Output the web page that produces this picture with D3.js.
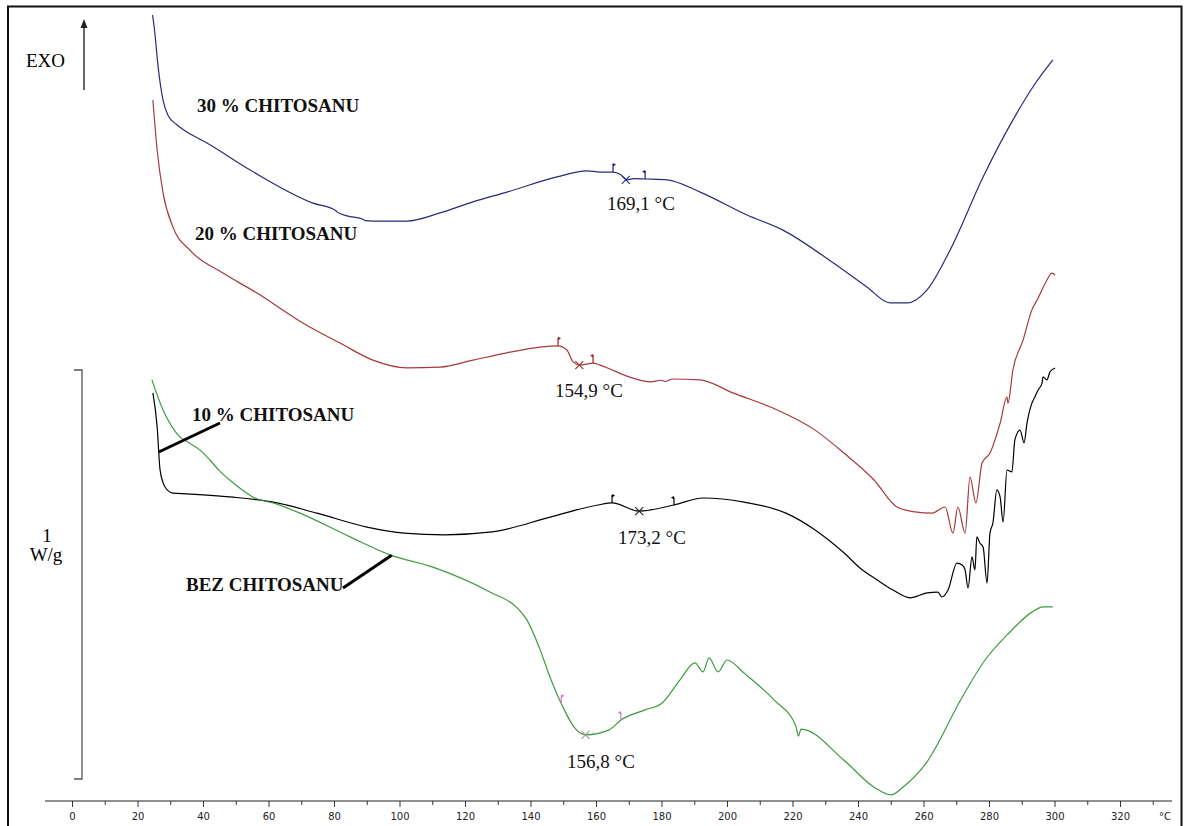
<!DOCTYPE html>
<html>
<head>
<meta charset="utf-8">
<script src="https://cdn.jsdelivr.net/npm/d3@7"></script>
<style>
  html, body { margin: 0; padding: 0; background: #fff; }
  svg { display: block; }
</style>
</head>
<body>
<svg id="chart" width="1184" height="826"></svg>
<script>
// ---------------- DATA (temperature °C, heat flow W/g, plotted offset) ----------------
const xTicksMajor = [0, 20, 40, 60, 80, 100, 120, 140, 160, 180, 200, 220, 240, 260, 280, 300, 320];
const xTicksMinor = [10, 30, 50, 70, 90, 110, 130, 150, 170, 190, 210, 230, 250, 270, 290, 310, 330];
const xUnit = "°C";

const series30 = [
  [24.6,1.868],[25.3,1.824],[26.3,1.741],[27.8,1.660],[29.3,1.623],[32.1,1.599],[35.1,1.582],
  [41.2,1.555],[54.4,1.489],[73.6,1.408],[80.5,1.390],[81.0,1.386],[84.0,1.377],[89.0,1.368],[89.5,1.365],
  [91.9,1.364],[102.3,1.364],[112.4,1.384],[122.4,1.411],[132.8,1.435],[148.1,1.472],[157.3,1.487],
  [161.2,1.484],[165.2,1.484],[167.5,1.478],[169.5,1.465],[171.5,1.468],[175.0,1.467],[181.7,1.465],
  [191.8,1.435],[206.1,1.379],[217.1,1.342],[232.4,1.262],[242.7,1.203],
  [249.8,1.164],[255.0,1.164],[261.1,1.196],[268.1,1.293],[278.2,1.472],[288.5,1.628],[293.4,1.692],[299.5,1.758]
];
const series20 = [
  [24.7,1.660],[26.0,1.538],[27.8,1.433],[30.8,1.350],[36.0,1.293],[46.1,1.237],[56.5,1.188],
  [67.5,1.130],[70.5,1.115],[81.8,1.066],[91.9,1.024],[102.3,1.005],[112.4,1.007],[122.4,1.024],
  [132.8,1.042],[142.9,1.056],[148.4,1.059],[151.1,1.049],[153.0,1.020],[155.1,1.012],[159.1,1.017],
  [161.2,1.012],[171.3,0.980],[176.5,0.971],[180.0,0.975],[181.0,0.972],[183.5,0.978],[191.8,0.976],
  [201.8,0.944],[214.0,0.907],[226.9,0.853],[235.7,0.797],[244.9,0.731],[251.9,0.665],
  [257.4,0.653],[262.6,0.650],[266.6,0.665],[269.0,0.601],[270.5,0.665],[272.7,0.601],[274.2,0.738],
  [276.0,0.675],[277.9,0.773],[280.3,0.797],[283.4,0.870],[285.5,0.934],[285.8,0.919],[287.3,1.000],
  [290.4,1.073],[293.1,1.147],[294.7,1.171],[297.7,1.220],[299.2,1.237],[300.2,1.232]
];
const series10 = [
  [24.7,0.944],[26.0,0.861],[26.9,0.755],[28.4,0.714],[30.8,0.699],[35.1,0.697],[49.2,0.689],
  [62.6,0.675],[74.8,0.650],[90.1,0.616],[101.4,0.601],[113.9,0.597],[128.2,0.604],[146.3,0.641],
  [160.6,0.670],[164.9,0.675],[173.1,0.655],[183.8,0.670],[192.7,0.687],[205.2,0.677],[218.0,0.650],
  [226.9,0.609],[235.7,0.553],[240.6,0.516],[245.8,0.487],[250.7,0.462],[255.9,0.443],[261.1,0.455],
  [264.4,0.457],[265.6,0.445],[267.5,0.462],[270.2,0.528],[271.8,0.523],[272.7,0.511],[273.6,0.467],
  [274.8,0.543],[275.7,0.511],[276.3,0.592],[277.2,0.577],[278.2,0.567],[279.4,0.479],[280.3,0.601],
  [281.2,0.626],[282.4,0.707],[283.4,0.689],[284.3,0.628],[285.5,0.755],[287.0,0.751],[287.9,0.829],
  [289.5,0.853],[290.7,0.822],[291.6,0.870],[293.1,0.919],[294.0,0.934],[295.0,0.951],[296.2,0.968],
  [296.5,0.983],[297.7,0.976],[298.6,0.995],[300.2,1.005]
];
const series0 = [
  [24.4,0.976],[27.8,0.902],[31.5,0.850],[33.0,0.836],[35.1,0.825],[39.1,0.804],[42.1,0.780],
  [45.2,0.752],[49.2,0.724],[55.3,0.689],[62.6,0.672],[69.6,0.650],
  [84.9,0.592],[97.1,0.548],[110.2,0.518],[128.2,0.455],[135.6,0.421],[138.9,0.389],[142.6,0.323],
  [146.3,0.242],[149.9,0.176],[153.3,0.127],[156.9,0.108],[164.0,0.120],[167.6,0.144],[175.0,0.169],
  [180.2,0.186],[185.6,0.242],[190.2,0.284],[192.7,0.262],[194.5,0.296],[197.3,0.262],[200.0,0.291],
  [205.2,0.259],[214.4,0.193],[221.0,0.130],[221.8,0.105],[222.6,0.122],[235.7,0.046],[244.9,-0.020],
  [250.1,-0.039],[253.7,-0.020],[260.8,0.039],[271.8,0.200],[278.8,0.291],[286.1,0.357],[293.1,0.408],
  [296.5,0.421],[299.5,0.421]
];

// onset / end flags and peak markers: [temperature, heat flow]
const flags30 = [[165.2,1.484],[175.0,1.467]];
const flags20 = [[148.4,1.059],[159.1,1.017]];
const flags10 = [[164.9,0.675],[183.8,0.670]];
const flags0  = [[149.4,0.185],[167.6,0.144]];
const peaks = [
  {t:169.1, v:1.465, label:"169,1 °C", color:"#2a2a80"},
  {t:154.9, v:1.012, label:"154,9 °C", color:"#a03030"},
  {t:173.2, v:0.655, label:"173,2 °C", color:"#222"},
  {t:156.8, v:0.108, label:"156,8 °C", color:"#999"}
];
const seriesNames = ["30 % CHITOSANU", "20 % CHITOSANU", "10 % CHITOSANU", "BEZ CHITOSANU"];
const seriesColors = ["#2a2a7a", "#a8383a", "#000000", "#3f9a3f"];
const flagColors = ["#1a1a90", "#a02020", "#000000", "#d07ad0"];

// ---------------- DRAWING ----------------
const svg = d3.select("#chart");
const x = d3.scaleLinear().domain([0, 330]).range([72, 72 + 3.275 * 330]);
const y = d3.scaleLinear().domain([0, 1]).range([779, 370]);
const serif = "'Liberation Serif', 'Times New Roman', serif";

// frame
svg.append("path")
  .attr("d", "M8,826 L8,6.5 L1181.5,6.5 L1181.5,826")
  .attr("fill", "none").attr("stroke", "#111").attr("stroke-width", 2);

// x axis
const axisY = 801;
svg.append("line").attr("x1", 45).attr("x2", 1172).attr("y1", axisY).attr("y2", axisY)
  .attr("stroke", "#222").attr("stroke-width", 1.2);
const gMaj = svg.append("g").attr("transform", `translate(0,${axisY})`)
  .call(d3.axisBottom(x).tickValues(xTicksMajor).tickSize(6).tickPadding(6).tickFormat(d3.format("d")));
const gMin = svg.append("g").attr("transform", `translate(0,${axisY})`)
  .call(d3.axisBottom(x).tickValues(xTicksMinor).tickSize(4).tickFormat(""));
[gMaj, gMin].forEach(g => {
  g.select(".domain").remove();
  g.selectAll(".tick line").attr("stroke", "#333");
});
gMaj.selectAll(".tick text").attr("font-family", "'DejaVu Sans', sans-serif")
  .attr("font-size", 10).attr("fill", "#222");
svg.append("text").attr("x", 1165).attr("y", 820).attr("text-anchor", "middle")
  .attr("font-family", "'DejaVu Sans', sans-serif").attr("font-size", 10).attr("fill", "#222")
  .text(xUnit);

// scale bracket 1 W/g
svg.append("path")
  .attr("d", `M74,${y(1)} L82,${y(1)} L82,${y(0)} L74,${y(0)}`)
  .attr("fill", "none").attr("stroke", "#555").attr("stroke-width", 1.3);
svg.append("text").attr("x", 47).attr("y", 542).attr("text-anchor", "middle")
  .attr("font-family", serif).attr("font-size", 19).text("1");
svg.append("text").attr("x", 46).attr("y", 561).attr("text-anchor", "middle")
  .attr("font-family", serif).attr("font-size", 19).text("W/g");

// EXO arrow
svg.append("line").attr("x1", 84).attr("x2", 84).attr("y1", 90).attr("y2", 26)
  .attr("stroke", "#333").attr("stroke-width", 1.5);
svg.append("path").attr("d", "M84,19 L80.5,28 L87.5,28 Z").attr("fill", "#222");
svg.append("text").attr("x", 26).attr("y", 67)
  .attr("font-family", serif).attr("font-size", 19).text("EXO");

// curves
const line = d3.line().x(d => x(d[0])).y(d => y(d[1])).curve(d3.curveMonotoneX);
const allSeries = [series30, series20, series10, series0];
allSeries.forEach((s, i) => {
  svg.append("path").datum(s).attr("d", line)
    .attr("fill", "none").attr("stroke", seriesColors[i]).attr("stroke-width", 1.2)
    .attr("stroke-linejoin", "round");
});

// flags
const allFlags = [flags30, flags20, flags10, flags0];
allFlags.forEach((fl, i) => {
  fl.forEach((f, j) => {
    const px = x(f[0]), py = y(f[1]);
    svg.append("line").attr("x1", px).attr("x2", px).attr("y1", py).attr("y2", py - 8)
      .attr("stroke", flagColors[i]).attr("stroke-width", 1.2);
    const dir = j === 0 ? 1 : -1;
    svg.append("path")
      .attr("d", `M${px},${py - 9} L${px + 3 * dir},${py - 7.5} L${px},${py - 5.5} Z`)
      .attr("fill", flagColors[i]);
  });
});

// peak markers and labels
const labelPos = [[641, 210], [589, 397], [652, 544], [601, 768]];
peaks.forEach((p, i) => {
  const px = x(p.t), py = y(p.v);
  svg.append("path").attr("d", `M${px - 4},${py - 4} L${px + 4},${py + 4} M${px - 4},${py + 4} L${px + 4},${py - 4}`)
    .attr("stroke", p.color).attr("stroke-width", 1.1);
  svg.append("text").attr("x", labelPos[i][0]).attr("y", labelPos[i][1]).attr("text-anchor", "middle")
    .attr("font-family", serif).attr("font-size", 19).attr("fill", "#111").text(p.label);
});

// series labels
const namePos = [[197, 112], [195, 240], [192, 421], [186, 591]];
seriesNames.forEach((n, i) => {
  svg.append("text").attr("x", namePos[i][0]).attr("y", namePos[i][1])
    .attr("font-family", serif).attr("font-size", 19).attr("font-weight", "bold")
    .attr("fill", "#111").text(n);
});

// leader lines
svg.append("line").attr("x1", x(26.5)).attr("y1", 452).attr("x2", 220).attr("y2", 423)
  .attr("stroke", "#000").attr("stroke-width", 3);
svg.append("line").attr("x1", 343).attr("y1", 588).attr("x2", x(97.6)).attr("y2", y(0.547))
  .attr("stroke", "#000").attr("stroke-width", 3);
</script>
</body>
</html>
